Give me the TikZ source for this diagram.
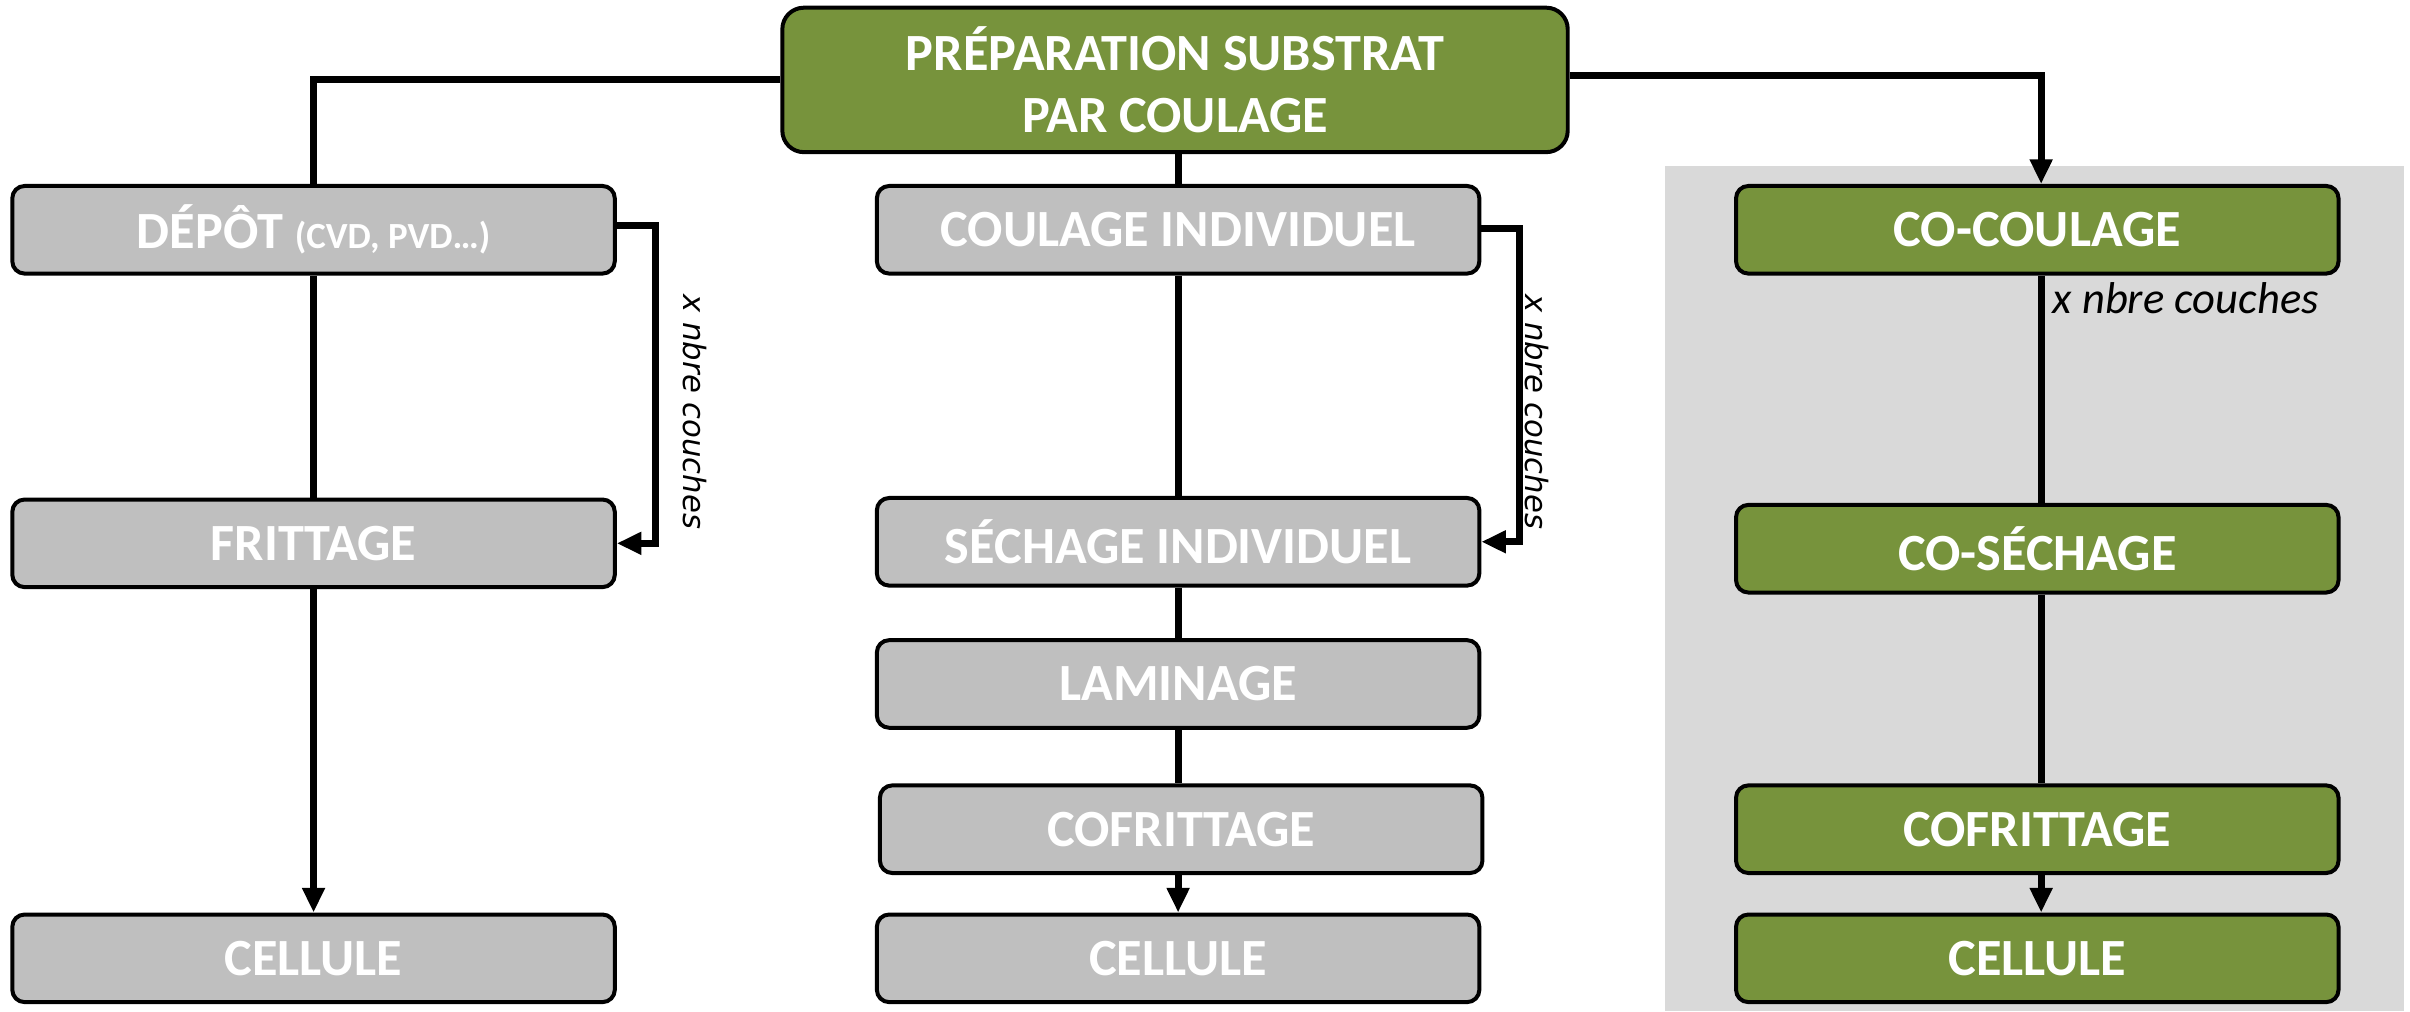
\documentclass[tikz,border=0pt]{standalone}
\usepackage{fontspec}
\setmainfont{Carlito}
\newfontfamily\labelfont{DejaVu Sans}
\usetikzlibrary{arrows.meta}
\definecolor{olive}{HTML}{77933C}
\definecolor{boxgray}{HTML}{BFBFBF}
\definecolor{panelgray}{HTML}{D9D9D9}
\begin{document}
\begin{tikzpicture}[x=1pt,y=-1pt,
  stepbox/.style={draw=black,line width=2.6pt,rounded corners=8pt,
    minimum width=392pt,minimum height=57pt,inner sep=0pt,
    text=white,font=\fontsize{34}{40}\selectfont\bfseries},
  greybox/.style={stepbox,fill=boxgray},
  greenbox/.style={stepbox,fill=olive},
  conn/.style={line width=4.5pt,draw=black},
  arr/.style={conn,-{Triangle[length=16pt,width=14pt]}},
  loopnote/.style={font=\labelfont\itshape\fontsize{20}{22}\selectfont,rotate=-90},
  note/.style={font=\itshape\fontsize{29}{32}\selectfont,anchor=west}]
\useasboundingbox (0,0) rectangle (1568,658);
% shaded panel behind the co-casting column
\fill[panelgray] (1083,108) rectangle (1564,658);

% head node
\node[greenbox,minimum width=511pt,minimum height=94pt,rounded corners=14pt,
  align=center,font=\fontsize{34}{40}\selectfont\bfseries] (top) at (764.5,52)
  {PRÉPARATION SUBSTRAT\\PAR COULAGE};

% left column: deposition route
\node[greybox] (dep) at (204,149.5) {DÉPÔT {\fontsize{24}{24}\selectfont(CVD, PVD…)}};
\node[greybox] (fri) at (204,353.5) {FRITTAGE};
\node[greybox] (celA) at (204,623.5) {CELLULE};

% middle column: individual casting route
\node[greybox] (coul) at (766.5,149.5) {COULAGE INDIVIDUEL};
\node[greybox] (sech) at (766.5,352.5) {SÉCHAGE INDIVIDUEL};
\node[greybox] (lam) at (766.5,445) {LAMINAGE};
\node[greybox] (cofB) at (768.5,539.5) {COFRITTAGE};
\node[greybox] (celB) at (766.5,623.5) {CELLULE};

% right column: co-casting route
\node[greenbox] (cocoul) at (1325.5,149.5) {CO-COULAGE};
\node[greenbox] (cosech) at (1325.5,357) {CO-SÉCHAGE};
\node[greenbox] (cofC) at (1325.5,539.5) {COFRITTAGE};
\node[greenbox] (celC) at (1325.5,623.5) {CELLULE};

% branches from the head node
\draw[conn] (top.west) -| (dep.north);
\draw[conn] (top.south -| coul.north) -- (coul.north);
\draw[arr] ([yshift=3pt]top.east) -| ([xshift=2.5pt]cocoul.north);

% left chain
\draw[conn] (dep.south) -- (fri.north);
\draw[arr] (fri.south) -- (celA.north);
\draw[arr] ([yshift=3pt]dep.east) -- ++(25,0) coordinate (loopA) |- (fri.east);
\node[loopnote] (noteA) at (452,268) {x nbre couches};

% middle chain
\draw[conn] (coul.south) -- (sech.north);
\draw[conn] (sech.south) -- (lam.north);
\draw[conn] (lam.south) -- (lam.south |- cofB.north);
\draw[arr] (lam.south |- cofB.south) -- (celB.north);
\draw[arr] ([yshift=1pt]coul.east) -- ++(25,0) coordinate (loopB) |- (sech.east);
\node[loopnote] (noteB) at (1000,268) {x nbre couches};

% right chain
\draw[conn] ([xshift=2.5pt]cocoul.south) -- ([xshift=2.5pt]cosech.north);
\draw[conn] ([xshift=2.5pt]cosech.south) -- ([xshift=2.5pt]cofC.north);
\draw[arr] ([xshift=2.5pt]cofC.south) -- ([xshift=2.5pt]celC.north);
\node[note] (noteC) at (1332,194) {x nbre couches};
\end{tikzpicture}
\end{document}
